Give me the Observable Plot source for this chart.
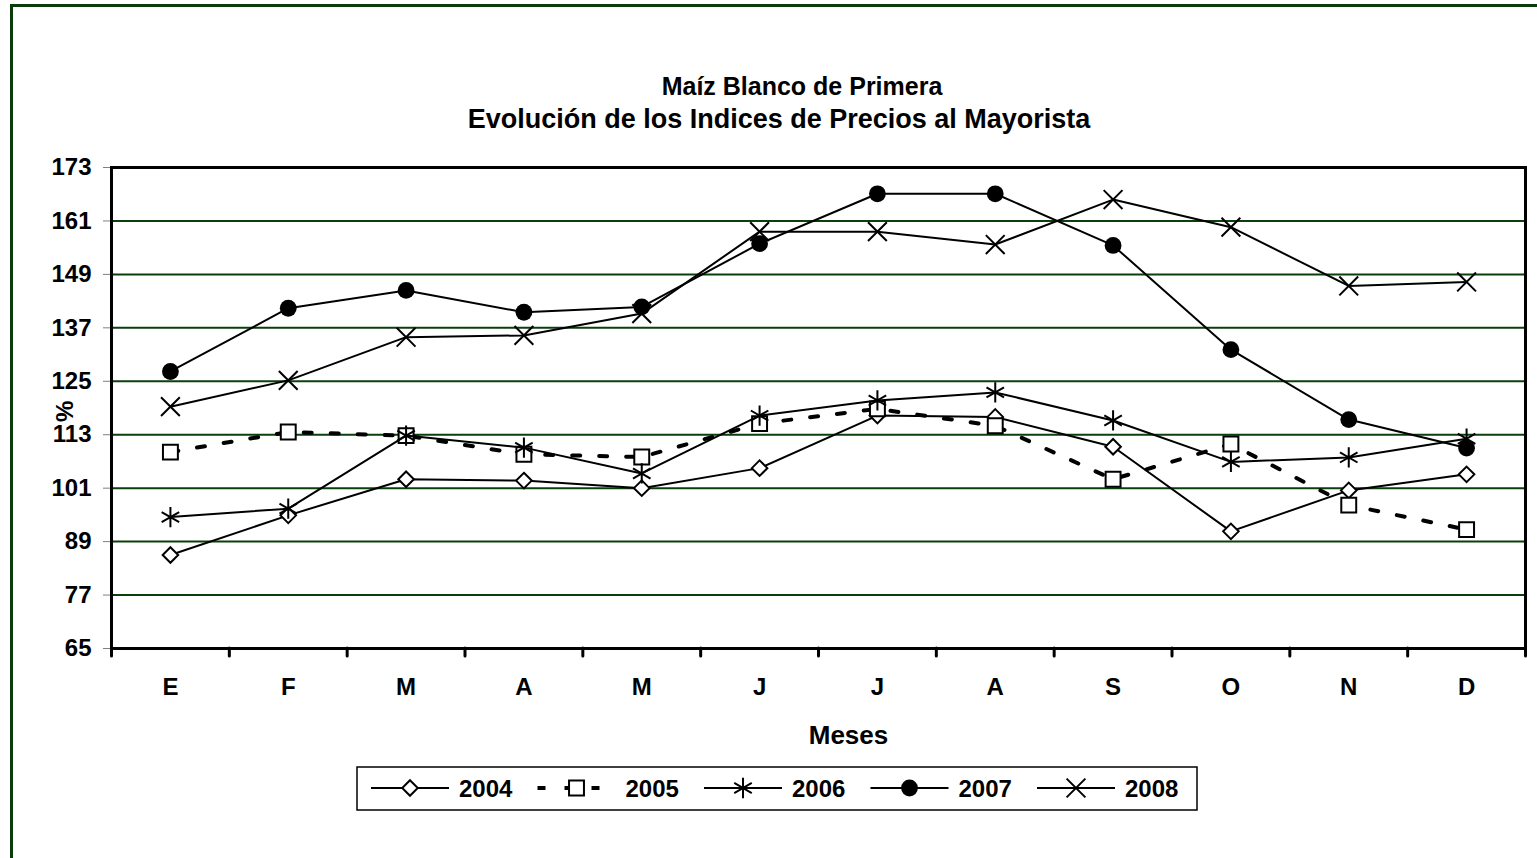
<!DOCTYPE html>
<html>
<head>
<meta charset="utf-8">
<script src="https://cdn.jsdelivr.net/npm/d3@7"></script>
<script src="https://cdn.jsdelivr.net/npm/@observablehq/plot@0.6"></script>
<style>
html,body{margin:0;padding:0;background:#fff;overflow:hidden;}
#wrap{position:relative;width:1537px;height:858px;overflow:hidden;font-family:"Liberation Sans",Arial,sans-serif;}
#border{position:absolute;left:10px;top:4px;width:1700px;height:1000px;border:3px solid #0b3b0b;box-sizing:border-box;}
.tl{position:absolute;width:1000px;text-align:center;font-weight:bold;line-height:33px;color:#000;white-space:nowrap;}
#t1{left:302px;top:70px;font-size:25px;}
#t2{left:279px;top:103px;font-size:27px;}
#chart{position:absolute;left:0;top:135px;}
#legend{position:absolute;left:355px;top:766px;}
</style>
</head>
<body>
<div id="wrap">
  <div id="border"></div>
  <div id="t1" class="tl">Maíz Blanco de Primera</div>
  <div id="t2" class="tl">Evolución de los Indices de Precios al Mayorista</div>
  <div id="chart"></div>
  <div id="legend"></div>
</div>
<script>
// ---- data ----
const months = ["E","F","M","A","M","J","J","A","S","O","N","D"];
const yTicks = [65,77,89,101,113,125,137,149,161,173];
const years = ["2004","2005","2006","2007","2008"];
const s2004 = [86.0, 94.9, 103.0, 102.7, 101.0, 105.5, 117.3, 117.0, 110.3, 91.3, 100.5, 104.1];
const s2005 = [109.1, 113.6, 112.8, 108.6, 108.0, 115.5, 118.8, 115.0, 103.0, 110.9, 97.2, 91.7];
const s2006 = [94.5, 96.4, 112.8, 110.1, 104.3, 117.3, 120.7, 122.5, 116.2, 106.9, 107.9, 112.1];
const s2007 = [127.2, 141.4, 145.4, 140.5, 141.7, 155.9, 167.1, 167.1, 155.5, 132.1, 116.4, 110.0];
const s2008 = [119.3, 125.2, 134.9, 135.3, 140.2, 158.6, 158.6, 155.7, 165.8, 159.6, 146.4, 147.3];

// ---- styles (separate from data) ----
const seriesValues = [s2004, s2005, s2006, s2007, s2008];
const styles = [
  {symbol: "diamond2", r: 7.0, fill: "white", dash: null, lw: 2},
  {symbol: "square2", r: 9.5, fill: "white", dash: "8,19", lw: 4},
  {symbol: "asterisk", r: 9.6, fill: "none", dash: null, lw: 2},
  {symbol: "circle", r: 8.4, fill: "black", dash: null, lw: 2},
  {symbol: "times", r: 8.6, fill: "none", dash: null, lw: 2}
];

const rows = [];
years.forEach((y, k) => seriesValues[k].forEach((v, i) => rows.push({year: y, i, v})));

const marks = [
  Plot.ruleY(yTicks.slice(1, -1), {stroke: "#0b3f0b", strokeWidth: 2}),
  Plot.axisY({ticks: yTicks, tickSize: 8, tickPadding: 12, stroke: "#808080", label: null, tickFormat: d => String(d)}),
  Plot.axisX({ticks: d3.range(12), tickFormat: i => months[i], tickSize: 0, tickPadding: 29, label: null}),
  Plot.axisX({ticks: d3.range(13).map(i => i - 0.5), tickFormat: () => "", tickSize: 8, strokeWidth: 3, strokeLinecap: "round", label: null}),
  Plot.frame({stroke: "black", strokeWidth: 3}),
  Plot.text(["Meses"], {frameAnchor: "bottom", dx: 30, dy: 95, fontSize: 26, fontWeight: "bold"}),
  Plot.text(["%"], {frameAnchor: "left", dx: -46, dy: 14, rotate: -90, fontSize: 24, fontWeight: "bold"})
];
years.forEach((y, k) => {
  const st = styles[k];
  const d = rows.filter(r => r.year === y);
  marks.push(Plot.line(d, {x: "i", y: "v", stroke: "black", strokeWidth: st.lw, strokeDasharray: st.dash}));
  marks.push(Plot.dot(d, {x: "i", y: "v", symbol: st.symbol, r: st.r, fill: st.fill, stroke: st.symbol === "circle" ? "none" : "black", strokeWidth: 2}));
});

const H = 625;
const chart = Plot.plot({
  width: 1537,
  height: H,
  marginLeft: 111,
  marginRight: 12,
  marginTop: 32,
  marginBottom: 112,
  x: {domain: [-0.5, 11.5]},
  y: {domain: [65, 173]},
  style: {fontFamily: "Liberation Sans, Arial, sans-serif", fontSize: "24px", fontWeight: "bold", color: "black", background: "transparent", overflow: "visible"},
  marks
});
document.getElementById("chart").appendChild(chart);

// ---- legend ----
const symMap = {diamond2: d3.symbolDiamond2, square2: d3.symbolSquare2, asterisk: d3.symbolAsterisk, circle: d3.symbolCircle, times: d3.symbolTimes};
const lg = d3.select("#legend").append("svg").attr("width", 846).attr("height", 47)
  .style("font-family", "Liberation Sans, Arial, sans-serif").style("font-weight", "bold").style("font-size", "24px");
lg.append("rect").attr("x", 2).attr("y", 1).attr("width", 840).attr("height", 43)
  .attr("fill", "white").attr("stroke", "black").attr("stroke-width", 1.5);
years.forEach((y, k) => {
  const st = styles[k];
  const x0 = 16 + k * 166.5;
  const g = lg.append("g");
  g.append("line").attr("x1", x0).attr("x2", x0 + 78).attr("y1", 22).attr("y2", 22)
    .attr("stroke", "black").attr("stroke-width", st.lw).attr("stroke-dasharray", st.dash);
  g.append("path").attr("transform", `translate(${x0 + 39},22)`)
    .attr("d", d3.symbol(symMap[st.symbol], Math.PI * st.r * st.r)())
    .attr("fill", st.fill).attr("stroke", st.symbol === "circle" ? "none" : "black").attr("stroke-width", 2);
  g.append("text").attr("x", x0 + 88).attr("y", 31).text(y);
});
</script>
</body>
</html>
